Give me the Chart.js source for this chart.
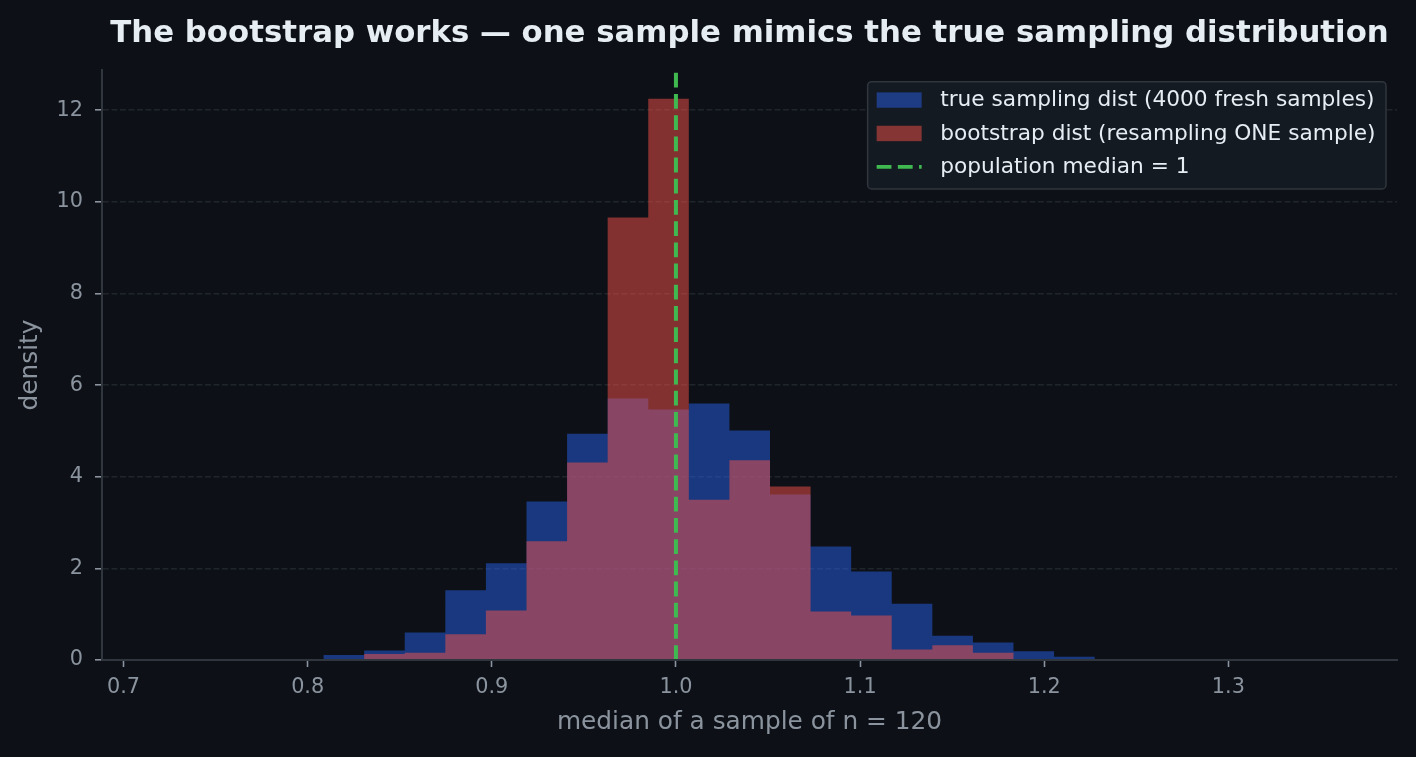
<!DOCTYPE html>
<html>
<head>
<meta charset="utf-8">
<script src="https://cdn.jsdelivr.net/npm/chart.js@4.4.1/dist/chart.umd.min.js"></script>
<style>
  html, body { margin: 0; padding: 0; background: #0d1117; }
  #wrap { width: 1416px; height: 757px; position: relative; }
</style>
</head>
<body>
<div id="wrap"><canvas id="c"></canvas></div>
<script>
// ---- data ----
const binEdges = [0.78660, 0.80864, 0.83068, 0.85272, 0.87476, 0.89680, 0.91884, 0.94088,
                  0.96292, 0.98496, 1.00700, 1.02904, 1.05108, 1.07312, 1.09516, 1.11720,
                  1.13924, 1.16128, 1.18332, 1.20536, 1.22740, 1.24944, 1.27148];
const trueDensity = [0.02, 0.11, 0.21, 0.60, 1.52, 2.11, 3.46, 4.94, 5.71, 5.47, 5.60,
                     5.01, 3.61, 2.48, 1.93, 1.23, 0.53, 0.38, 0.19, 0.07, 0.00, 0.02];
const bootDensity = [0.00, 0.00, 0.13, 0.16, 0.56, 1.08, 2.59, 4.31, 9.66, 12.25, 3.50,
                     4.36, 3.79, 1.06, 0.97, 0.23, 0.32, 0.16, 0.02, 0.00, 0.02, 0.00];
const populationMedian = 1;
const xTickValues = [0.7, 0.8, 0.9, 1.0, 1.1, 1.2, 1.3];
const yTickValues = [0, 2, 4, 6, 8, 10, 12];
const labels = {
  title: 'The bootstrap works \u2014 one sample mimics the true sampling distribution',
  x: 'median of a sample of n = 120',
  y: 'density',
  trueDist: 'true sampling dist (4000 fresh samples)',
  bootDist: 'bootstrap dist (resampling ONE sample)',
  median: 'population median = 1'
};
const xMin = 0.6883, xMax = 1.3916, yMax = 12.88;

// histogram outline as step points (interval [edge_i, edge_i+1] has height h_i)
function stepPoints(h) {
  const pts = h.map((v, i) => ({ x: binEdges[i], y: v }));
  pts.push({ x: binEdges[binEdges.length - 1], y: 0 });
  return pts;
}

const FONT = '"DejaVu Sans", "Noto Sans", sans-serif';

const legendPlugin = {
  id: 'refLegend',
  afterDraw(chart) {
    const { ctx, chartArea } = chart;
    const dsets = chart.data.datasets;
    ctx.save();
    ctx.font = '21.7px ' + FONT;
    const textW = Math.max(...dsets.map(d => ctx.measureText(d.label).width));
    const padL = 9, handleW = 45, gap = 18.5, padR = 10.5, rowH = 33.4, padT = 18.4;
    const boxW = padL + handleW + gap + textW + padR;
    const boxRight = chartArea.right - 11;
    const boxLeft = boxRight - boxW;
    const boxTop = chartArea.top + 11.7;
    const boxH = 107.3;
    ctx.beginPath();
    ctx.roundRect(boxLeft, boxTop, boxW, boxH, 4);
    ctx.fillStyle = 'rgba(22,27,34,0.93)';
    ctx.fill();
    ctx.lineWidth = 1.5;
    ctx.strokeStyle = '#30363d';
    ctx.stroke();
    dsets.forEach((d, i) => {
      const cy = boxTop + padT + i * rowH;
      const hx = boxLeft + padL;
      if (d.borderDash) {
        ctx.save();
        ctx.beginPath();
        ctx.setLineDash(d.borderDash);
        ctx.lineWidth = 3.7;
        ctx.strokeStyle = d.borderColor;
        ctx.moveTo(hx, cy);
        ctx.lineTo(hx + handleW, cy);
        ctx.stroke();
        ctx.restore();
      } else {
        ctx.fillStyle = d.backgroundColor;
        ctx.fillRect(hx, cy - 7.7, handleW, 15.4);
      }
      ctx.fillStyle = '#e6edf3';
      ctx.textAlign = 'left';
      ctx.textBaseline = 'middle';
      ctx.fillText(d.label, hx + handleW + gap, cy + 0.8);
    });
    ctx.restore();
  }
};

new Chart(document.getElementById('c'), {
  type: 'line',
  data: {
    datasets: [
      {
        label: labels.trueDist,
        data: stepPoints(trueDensity),
        stepped: true,
        fill: 'origin',
        backgroundColor: 'rgba(40,96,232,0.5)',
        borderColor: 'transparent',
        borderWidth: 0,
        pointRadius: 0,
        order: 2
      },
      {
        label: labels.bootDist,
        data: stepPoints(bootDensity),
        stepped: true,
        fill: 'origin',
        backgroundColor: 'rgba(248,81,73,0.5)',
        borderColor: 'transparent',
        borderWidth: 0,
        pointRadius: 0,
        order: 1
      },
      {
        label: labels.median,
        data: [{ x: populationMedian, y: 0 }, { x: populationMedian, y: yMax }],
        borderColor: '#3fb950',
        borderWidth: 4,
        borderDash: [14.8, 6.4],
        pointRadius: 0,
        fill: false,
        order: 0
      }
    ]
  },
  options: {
    responsive: true,
    maintainAspectRatio: false,
    animation: false,
    events: [],
    layout: { padding: { left: 0, right: 19, top: 0, bottom: 0 } },
    plugins: {
      legend: { display: false },
      tooltip: { enabled: false },
      title: {
        display: true,
        text: labels.title,
        color: '#e6edf3',
        fullSize: false,
        font: { family: FONT, size: 30.8, weight: 'bold' },
        padding: { top: 15.2, bottom: 17.8 }
      }
    },
    scales: {
      x: {
        type: 'linear',
        min: xMin,
        max: xMax,
        afterFit(s) { s.height = 97; },
        afterBuildTicks(s) { s.ticks = xTickValues.map(v => ({ value: v })); },
        ticks: {
          color: '#8b949e',
          font: { family: FONT, size: 20.8 },
          padding: 8.5,
          maxRotation: 0,
          autoSkip: false,
          callback: v => Number(v).toFixed(1)
        },
        grid: {
          display: true,
          drawOnChartArea: false,
          drawTicks: true,
          tickLength: 7,
          tickWidth: 1.6,
          tickColor: '#8b949e'
        },
        border: { display: true, color: '#30363d', width: 2, z: 1 },
        title: {
          display: true,
          text: labels.x,
          color: '#8b949e',
          font: { family: FONT, size: 24.8 },
          padding: { top: 0, bottom: 19.5 }
        }
      },
      y: {
        type: 'linear',
        min: 0,
        max: yMax,
        afterFit(s) { s.width = 102; },
        afterBuildTicks(s) { s.ticks = yTickValues.map(v => ({ value: v })); },
        ticks: {
          color: '#8b949e',
          font: { family: FONT, size: 20.8 },
          padding: 12,
          callback: v => String(v)
        },
        grid: {
          display: true,
          drawOnChartArea: true,
          drawTicks: true,
          tickLength: 7,
          tickWidth: 1.6,
          tickColor: '#8b949e',
          lineWidth: 1.6,
          color: c => (c.tick && c.tick.value === 0) ? 'rgba(0,0,0,0)' : 'rgba(48,54,61,0.55)'
        },
        border: { display: true, color: '#30363d', width: 2, dash: [5.9, 2.6], z: 1 },
        title: {
          display: true,
          text: labels.y,
          color: '#8b949e',
          font: { family: FONT, size: 24.8 },
          padding: { top: 16, bottom: 0 }
        }
      }
    }
  },
  plugins: [legendPlugin]
});
</script>
</body>
</html>
